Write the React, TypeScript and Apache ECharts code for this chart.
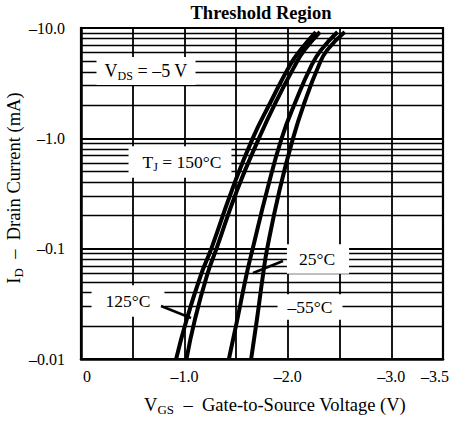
import React, { useEffect, useRef } from 'react';
import * as echarts from 'echarts';

// Drain current magnitude levels (mA) at which the curves were read
const idLevels = [0.01, 0.0225, 0.058, 0.1, 0.34, 1.0, 2.1, 4.6, 6.3, 9.2];
// Gate-to-source voltage magnitude (V) for each temperature
const vgs150 = [0.92, 1.02, 1.16, 1.26, 1.46, 1.66, 1.83, 2.02, 2.12, 2.27];
const vgs125 = [1.02, 1.1, 1.22, 1.31, 1.51, 1.72, 1.88, 2.07, 2.16, 2.31];
const vgs25 = [1.43, 1.51, 1.6, 1.66, 1.8, 1.94, 2.07, 2.23, 2.32, 2.48];
const vgsM55 = [1.645, 1.7, 1.76, 1.8, 1.92, 2.05, 2.16, 2.3, 2.38, 2.55];
const seriesNames = ['150°C', '125°C', '25°C', '–55°C'];

const xTickLabels: Record<string, string> = { '0': '0', '1': '–1.0', '2': '–2.0', '3': '–3.0', '3.5': '–3.5' };
const yTickLabels = ['–0.01', '–0.1', '–1.0', '–10.0'];
const minorGrid = [
  0.02, 0.03, 0.04, 0.05, 0.06, 0.07, 0.08, 0.09,
  0.2, 0.3, 0.4, 0.5, 0.6, 0.7, 0.8, 0.9,
  2, 3, 4, 5, 6, 7, 8, 9,
];

const FONT = '"Liberation Serif", "Times New Roman", serif';

const pairs = (v: number[]) => v.map((x, i) => [x, idLevels[i]]);

export default function App() {
  const ref = useRef<HTMLDivElement>(null);
  useEffect(() => {
    if (!ref.current) return;
    const chart = echarts.init(ref.current, undefined, { renderer: 'svg' });
    const richMain = (size: number, sub: number) => ({
      a: { fontFamily: FONT, fontSize: size, color: '#000', lineHeight: size + 4 },
      s: { fontFamily: FONT, fontSize: sub, color: '#000', lineHeight: sub, verticalAlign: 'bottom' as const },
    });
    const label = (x: number, y: number, text: string, size: number, pad: number[]) => ({
      type: 'text',
      x,
      y,
      z: 100,
      style: {
        text,
        rich: richMain(size, 12),
        fontFamily: FONT,
        fontSize: size,
        align: 'center',
        verticalAlign: 'middle',
        backgroundColor: '#fff',
        padding: pad,
      },
    });
    const allSeries = [vgs150, vgs125, vgs25, vgsM55].map((v, i) => ({
      name: seriesNames[i],
      type: 'line',
      data: pairs(v),
      smooth: 0.5,
      symbol: 'none',
      lineStyle: { color: '#000', width: 4 },
      z: 10,
      ...(i === 0
        ? {
            markLine: {
              silent: true,
              symbol: 'none',
              label: { show: false },
              lineStyle: { color: '#000', width: 1.4, type: 'solid', opacity: 1 },
              data: minorGrid.map((y) => ({ yAxis: y })),
              z: 2,
            },
          }
        : {}),
    }));
    chart.setOption({
      animation: false,
      grid: { left: 81, right: 15, top: 28, bottom: 64, show: false },
      xAxis: {
        type: 'value',
        min: 0,
        max: 3.5,
        interval: 0.5,
        axisLine: { show: true, lineStyle: { color: '#000', width: 2.5 } },
        axisTick: { show: false },
        splitLine: { show: true, lineStyle: { color: '#000', width: 1.8 } },
        axisLabel: {
          margin: 9,
          fontFamily: FONT,
          fontSize: 16,
          color: '#000',
          formatter: (v: number) => {
            const key = String(Math.round(v * 10) / 10);
            const t = xTickLabels[key];
            if (!t) return '';
            if (key === '0') return '{l|' + t + '}';
            if (key === '3.5') return '{r|' + t + '}';
            return t;
          },
          rich: {
            l: { fontFamily: FONT, fontSize: 16, color: '#000', padding: [0, 0, 0, 12] },
            r: { fontFamily: FONT, fontSize: 16, color: '#000', padding: [0, 16, 0, 0] },
          },
        },
      },
      yAxis: {
        type: 'log',
        logBase: 10,
        min: 0.01,
        max: 10,
        axisLine: { show: true, lineStyle: { color: '#000', width: 2.5 } },
        axisTick: { show: false },
        splitLine: { show: true, lineStyle: { color: '#000', width: 2.2 } },
        axisLabel: {
          margin: 16,
          fontFamily: FONT,
          fontSize: 16,
          color: '#000',
          formatter: (v: number) => {
            const idx = Math.round(Math.log10(v)) + 2;
            return yTickLabels[idx] ?? '';
          },
        },
      },
      series: allSeries,
      graphic: [
        {
          type: 'rect',
          z: 50,
          shape: { x: 81, y: 28, width: 362, height: 331 },
          style: { fill: 'none', stroke: '#000', lineWidth: 2.2 },
          silent: true,
        },
        {
          type: 'text',
          x: 261,
          y: 13,
          z: 100,
          style: {
            text: 'Threshold Region',
            fontFamily: FONT,
            fontSize: 18.5,
            fontWeight: 'bold',
            fill: '#000',
            align: 'center',
            verticalAlign: 'middle',
          },
        },
        {
          type: 'text',
          x: 275,
          y: 405,
          z: 100,
          style: {
            text: '{a|V}{s|GS}{a|  –  Gate-to-Source Voltage (V)}',
            rich: richMain(18.5, 13),
            align: 'center',
            verticalAlign: 'middle',
          },
        },
        {
          type: 'text',
          x: 14,
          y: 188,
          rotation: Math.PI / 2,
          z: 100,
          style: {
            text: '{a|I}{s|D}{a|  –  Drain Current (mA)}',
            rich: richMain(18.5, 13),
            align: 'center',
            verticalAlign: 'middle',
          },
        },
        label(146, 71, '{a|V}{s|DS}{a| = –5 V}', 18, [3, 8, 3, 8]),
        label(180, 162, '{a|T}{s|J}{a| = 150°C}', 17.5, [5, 10, 5, 14]),
        label(128, 301, '{a|125°C}', 17.5, [5, 14, 5, 14]),
        label(318, 259, '{a|25°C}', 17.5, [4, 14, 4, 12]),
        label(310, 307, '{a|–55°C}', 17.5, [2, 10, 2, 10]),
        {
          type: 'line',
          z: 100,
          shape: { x1: 161, y1: 306, x2: 191, y2: 318 },
          style: { stroke: '#000', lineWidth: 2.5 },
        },
        {
          type: 'line',
          z: 100,
          shape: { x1: 283, y1: 261, x2: 253, y2: 273 },
          style: { stroke: '#000', lineWidth: 2.5 },
        },
      ],
    });
    return () => chart.dispose();
  }, []);
  return (
    <div
      ref={ref}
      style={{ position: 'fixed', left: 0, top: 0, width: 458, height: 423, background: '#fff' }}
    />
  );
}
